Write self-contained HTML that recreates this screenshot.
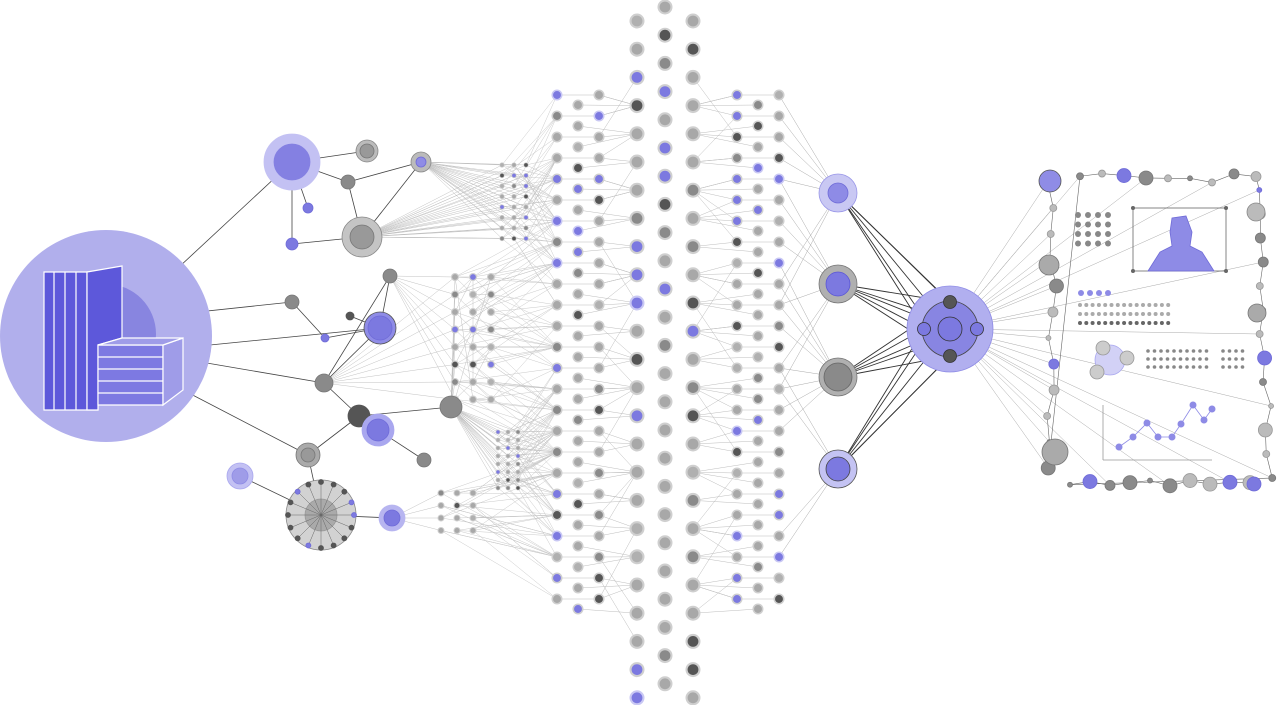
<!DOCTYPE html>
<html><head><meta charset="utf-8">
<style>html,body{margin:0;padding:0;background:#fff}svg{display:block}</style>
</head><body>
<svg id="s" width="1280" height="705" viewBox="0 0 1280 705" xmlns="http://www.w3.org/2000/svg">
<rect width="1280" height="705" fill="#fff"/>
<g id="edges" stroke-linecap="round"></g>
<g id="big">
 <circle cx="106" cy="336" r="106" fill="#b1afec"/>
 <circle cx="106" cy="334" r="50" fill="#8885e0"/>
 <g stroke="#fff" stroke-width="1.2">
  <polygon points="44,272 98,272 98,410 44,410" fill="#5d58da"/>
  <line x1="54" y1="272" x2="54" y2="410"/><line x1="65" y1="272" x2="65" y2="410"/><line x1="76" y1="272" x2="76" y2="410"/><line x1="87" y1="272" x2="87" y2="410"/>
  <polygon points="87,272 122,266 122,338 98,345 98,410 87,410" fill="#5d58da"/>
  <polygon points="98,345 163,345 163,405 98,405" fill="#7d79e2"/>
  <line x1="98" y1="357" x2="163" y2="357"/><line x1="98" y1="369" x2="163" y2="369"/><line x1="98" y1="381" x2="163" y2="381"/><line x1="98" y1="393" x2="163" y2="393"/>
  <polygon points="163,345 183,338 183,390 163,405" fill="#9f9ce8"/>
  <polygon points="122,338 183,338 163,345 98,345" fill="#9f9ce8"/>
 </g>
</g>
<g id="nodes"></g>
<g id="panel"></g>
</svg>
<script>
var NS="http://www.w3.org/2000/svg";
var E=document.getElementById('edges'),N=document.getElementById('nodes'),P=document.getElementById('panel');
function el(p,t,a){var e=document.createElementNS(NS,t);for(var k in a)e.setAttribute(k,a[k]);p.appendChild(e);return e;}
function line(x1,y1,x2,y2,c,w,p){el(p||E,'line',{x1:x1,y1:y1,x2:x2,y2:y2,stroke:c||'#bbb','stroke-width':w||0.5});}
var seed=7;function rnd(){seed=(seed*9301+49297)%233280;return seed/233280;}
var pal=[['#a8a8a8','#999'],['#8a8a8a','#777'],['#555','#555'],['#7c79e0','#6f6bd8'],['#b0b0b0','#999']];
function node(x,y,r,c){el(N,'circle',{cx:x,cy:y,r:r,fill:c[0],stroke:c[1],'stroke-width':0.8});}
function cnode(x,y,r,c){el(N,'circle',{cx:x,cy:y,r:r,fill:c[3]=='p'?'#c9c8f3':'#cfcfcf'});el(N,'circle',{cx:x,cy:y,r:r*0.72,fill:c[0]});}
function rc(){var v=rnd();return v<0.45?pal[0]:v<0.6?pal[1]:v<0.72?pal[2]:v<0.9?pal[3]:pal[4];}
var cols=[{x:557,y0:95,s:21,n:25,r:5.5},{x:578,y0:105,s:21,n:25,r:5.5},{x:599,y0:95,s:21,n:25,r:5.5},
{x:637,y0:21,s:28.2,n:25,r:7.5},{x:665,y0:7,s:28.2,n:25,r:7.5},{x:693,y0:21,s:28.2,n:25,r:7.5},
{x:737,y0:95,s:21,n:25,r:5.5},{x:758,y0:105,s:21,n:25,r:5.5},{x:779,y0:95,s:21,n:25,r:5.5}];
var pts=cols.map(function(c){var a=[];for(var i=0;i<c.n;i++)a.push([c.x,c.y0+i*c.s]);return a;});
function connect(a,b,k0){pts[a].forEach(function(p){var nx=pts[b];var near=nx.reduce(function(bb,t){return Math.abs(t[1]-p[1])<Math.abs(bb[1]-p[1])?t:bb;});for(var k=0;k<k0;k++){var idx=nx.indexOf(near)+(k==0?0:Math.floor(rnd()*5)-2);var q=nx[Math.max(0,Math.min(nx.length-1,idx))];line(p[0],p[1],q[0],q[1],'#bdbdbd',0.5);}});}
connect(2,3,2);connect(6,5,2);connect(0,2,1);connect(8,6,1);connect(1,3,1);connect(7,5,1);
var cl=[];
function grid(xs,y0,s,n,r){var out=[];xs.forEach(function(x){for(var i=0;i<n;i++){out.push([x,y0+i*s,r]);}});return out;}
var c1=grid([502,514,526],165,10.5,8,2.6),c2=grid([455,473,491],277,17.5,8,4),c3=grid([498,508,518],432,8,8,2.4),c4=grid([441,457,473],493,12.5,4,3.5);
[c1,c2,c3,c4].forEach(function(c){c.forEach(function(p){for(var k=0;k<3;k++){var col=pts[0];var near=col.reduce(function(b,t){return Math.abs(t[1]-p[1])<Math.abs(b[1]-p[1])?t:b;});var idx=col.indexOf(near)+Math.floor(rnd()*7)-3;var q=col[Math.max(0,Math.min(col.length-1,idx))];line(p[0],p[1],q[0],q[1],'#c4c4c4',0.45);}});});
var L={a:[292,162],b:[367,151],c:[348,182],d:[421,162],e:[308,208],f:[292,244],g:[362,237],h:[390,276],i:[292,302],j:[350,316],k:[325,338],l:[380,328],m:[324,383],n:[359,416],o:[378,430],p:[451,407],q:[424,460],r:[308,455],s:[240,476],t:[321,515],u:[392,518]};
var le=['ab','ac','af','ae','cd','cg','fg','gd','hl','ik','kl','ml','mh','mn','np','nr','oq','rt','st','tu','jl','no'];
le.forEach(function(s){var A=L[s[0]],B=L[s[1]];line(A[0],A[1],B[0],B[1],'#444',0.8);});
[[122,320,292,162],[122,320,292,302],[160,350,380,328],[160,355,324,383],[183,390,308,455]].forEach(function(v){line(v[0],v[1],v[2],v[3],'#444',0.8);});
c1.forEach(function(p){line(362,237,p[0],p[1],'#bbb',0.45);line(421,162,p[0],p[1],'#bbb',0.45);});
c2.forEach(function(p){if(p[0]==455){line(390,276,p[0],p[1],'#bbb',0.45);line(324,383,p[0],p[1],'#bbb',0.45);line(451,407,p[0],p[1],'#bbb',0.45);}});
c3.forEach(function(p){line(451,407,p[0],p[1],'#bbb',0.45);});
c4.forEach(function(p){if(p[0]==441)line(392,518,p[0],p[1],'#bbb',0.45);});
for(var i=0;i<c2.length-8;i++){var q=c2[i+8-(i%3)];line(c2[i][0],c2[i][1],q[0],q[1],'#bbb',0.45);line(c2[i][0],c2[i][1],c2[(i+9)%c2.length][0],c2[(i+9)%c2.length][1],'#bbb',0.45);}
var R=[[838,193,19,['#c9c8f3','#9a97e8'],10,['#8e8be6','#6f6bd8']],[838,284,19,['#b0b0b0','#777'],12,['#7c79e0','#5a56d6']],[838,377,19,['#b0b0b0','#777'],14,['#8a8a8a','#666']],[838,469,19,['#c4c3f3','#555'],12,['#7c79e0','#444']]];
R.forEach(function(r){pts[8].forEach(function(p,i){if(Math.abs(p[1]-r[1])<120&&rnd()<0.5)line(p[0],p[1],r[0],r[1],'#aaa',0.5);});
 [[950,302],[950,356],[924,329],[977,329],[950,329]].forEach(function(h){line(r[0],r[1],h[0],h[1],'#333',0.9);});});
var perim=[];
for(var y=182;y<=485;y+=26)perim.push([1047+rnd()*10,y]);
for(var x=1080;x<=1265;x+=22)perim.push([x,173+rnd()*10]);
for(var y=190;y<=480;y+=24)perim.push([1258+rnd()*16,y]);
for(var x=1070;x<=1265;x+=20)perim.push([x,478+rnd()*10]);
perim.forEach(function(p,i){if(p[0]<1070||i%3==0)line(950,329,p[0],p[1],'#aaa',0.5);});
for(var i=0;i<perim.length-1;i++)line(perim[i][0],perim[i][1],perim[i+1][0],perim[i+1][1],'#666',0.6);
pts.forEach(function(col,ci){col.forEach(function(p){var c=rc();cnode(p[0],p[1],cols[ci].r,[c[0],0,0,c==pal[3]&&rnd()<0.3?'p':'g']);});});
[c1,c2,c3,c4].forEach(function(c){c.forEach(function(p){cnode(p[0],p[1],p[2],[rc()[0]]);});});
function big(x,y,r1,c1_,r2,c2_){node(x,y,r1,c1_);if(r2)node(x,y,r2,c2_);}
big(292,162,28,['#c3c1f3','#c3c1f3'],18,['#8480e2','#8480e2']);
big(367,151,11,['#bbb','#888'],7,['#999','#777']);
node(348,182,7,pal[1]);big(421,162,10,['#bbb','#888'],5,['#8f8ce6','#6f6bd8']);
node(308,208,5,pal[3]);node(292,244,6,pal[3]);
big(362,237,20,['#c4c4c4','#888'],12,['#999','#777']);
node(390,276,7,pal[1]);node(292,302,7,pal[1]);node(350,316,4,pal[2]);node(325,338,4,pal[3]);
big(380,328,16,['#8f8ce6','#555'],12,['#7c79e0','#6f6bd8']);
node(324,383,9,pal[1]);node(359,416,11,pal[2]);big(378,430,16,['#a9a7ef','#a9a7ef'],11,['#7c79e0','#6f6bd8']);
node(451,407,11,pal[1]);node(424,460,7,pal[1]);big(308,455,12,['#aaa','#777'],7,['#999','#777']);
big(240,476,13,['#c3c1f3','#a9a7ef'],8,['#9f9ce8','#8f8ce6']);
big(321,515,35,['#d2d2d2','#888'],16,['#aaa','#999']);
for(var a=0;a<16;a++){var an=a*Math.PI/8;var px=321+33*Math.cos(an),py=515+33*Math.sin(an);line(321,515,px,py,'#666',0.5,N);node(px,py,2.5,pal[a%5==0?3:2]);}
big(392,518,13,['#b7b5f0','#b7b5f0'],8,['#7c79e0','#6f6bd8']);
R.forEach(function(r){node(r[0],r[1],r[2],r[3]);node(r[0],r[1],r[4],r[5]);});
node(950,329,43,['#b1afef','#8f8ce6']);node(950,329,28,['#8885e2','#444']);node(950,329,12,['#7c79e0','#333']);
[[950,302],[950,356],[924,329],[977,329]].forEach(function(h){node(h[0],h[1],6.5,h[1]==329?['#7c79e0','#333']:['#555','#333']);});
perim.forEach(function(p,i){var r=[2.5,3.5,5,7][Math.floor(rnd()*4)];node(p[0],p[1],r,i%7==0?pal[3]:rnd()<0.5?pal[1]:['#bbb','#999']);});
node(1050,181,11,['#8f8ce6','#555']);node(1055,452,13,['#aaa','#777']);node(1049,265,10,['#aaa','#777']);node(1257,313,9,['#aaa','#777']);node(1254,484,7,pal[3]);node(1256,212,9,['#bbb','#888']);
for(var i=0;i<4;i++)for(var j=0;j<4;j++)el(P,'circle',{cx:1078+j*10,cy:215+i*9.5,r:3,fill:'#888'});
el(P,'rect',{x:1133,y:208,width:93,height:63,fill:'none',stroke:'#666','stroke-width':0.8});
[[1133,208],[1226,208],[1133,271],[1226,271]].forEach(function(p){el(P,'circle',{cx:p[0],cy:p[1],r:2,fill:'#666'});});
el(P,'path',{d:'M1148,271 L1160,252 L1172,246 L1170,232 L1172,218 L1186,216 L1192,232 L1190,246 L1202,252 L1214,271 Z',fill:'#8e8be6',stroke:'#6f6bd8','stroke-width':0.8});
for(var i=0;i<4;i++)el(P,'circle',{cx:1081+i*9,cy:293,r:3,fill:'#8e8be6'});
for(var r=0;r<3;r++)for(var i=0;i<15;i++)el(P,'circle',{cx:1080+i*6.3,cy:305+r*9,r:2,fill:r==2?'#666':'#aaa'});
node(1110,360,15,['#d2d1f6','#a9a7ef']);node(1103,348,7,['#ccc','#999']);node(1127,358,7,['#ccc','#999']);node(1097,372,7,['#ccc','#999']);
for(var r=0;r<3;r++)for(var i=0;i<14;i++){var x=1148+i*6.5+(i>9?10:0);el(P,'circle',{cx:x,cy:351+r*8,r:1.8,fill:'#888'});}
el(P,'line',{x1:1103,y1:405,x2:1103,y2:460,stroke:'#999','stroke-width':0.8});el(P,'line',{x1:1103,y1:460,x2:1212,y2:460,stroke:'#999','stroke-width':0.8});
var ch=[[1119,447],[1133,437],[1147,423],[1158,437],[1172,437],[1181,424],[1193,405],[1204,420],[1212,409]];
el(P,'polyline',{points:ch.map(function(p){return p.join(',')}).join(' '),fill:'none',stroke:'#8e8be6','stroke-width':0.8});
ch.forEach(function(p){el(P,'circle',{cx:p[0],cy:p[1],r:3.5,fill:'#8e8be6'});});
</script>
</body></html>
